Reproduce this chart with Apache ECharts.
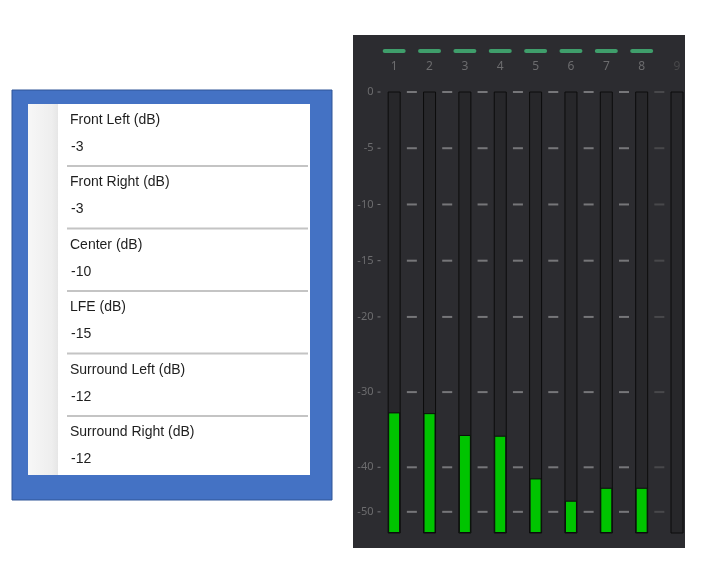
<!DOCTYPE html>
<html>
<head>
<meta charset="utf-8">
<script src="https://cdn.jsdelivr.net/npm/echarts@6/dist/echarts.min.js"></script>
<style>
html,body{margin:0;padding:0;background:#fff;}
#chart{width:701px;height:582px;}
</style>
</head>
<body>
<div id="chart"></div>
<script>
// ---- Data ----
const speakerNames = ['Front Left', 'Front Right', 'Center', 'LFE', 'Surround Left', 'Surround Right'];
const speakerGainDb = [-3, -3, -10, -15, -12, -12];
const meterChannels = ['1', '2', '3', '4', '5', '6', '7', '8', '9'];
const meterLevelsDb = [-32.7, -32.8, -35.7, -35.8, -42.5, -47.5, -44.6, -44.6, null];
const meterTicksDb = [0, -5, -10, -15, -20, -30, -40, -50];

// ---- Meter scale (piecewise-linear, like the audio meter's own scale) ----
const scaleDb  = [0, -20, -40, -50, -55];
const scaleVal = [100, 49, 14.9, 4.8, 0];
function meterPos(db) {
  if (db == null) return null;
  for (let i = 0; i < scaleDb.length - 1; i++) {
    const a = scaleDb[i], b = scaleDb[i + 1];
    if (db <= a && db >= b) {
      return scaleVal[i] + (db - a) / (b - a) * (scaleVal[i + 1] - scaleVal[i]);
    }
  }
  return 0;
}
const tickPos = meterTicksDb.map(meterPos);
function tickLabel(v) {
  for (let i = 0; i < tickPos.length; i++) {
    if (Math.abs(tickPos[i] - v) < 1e-6) return '{l|' + meterTicksDb[i] + '}{g| }{t| }';
  }
  return '';
}

// dashes between channel strips at each tick level
const dashData = [];
for (let g = 0; g < meterChannels.length - 1; g++) {
  const active = meterLevelsDb[g + 1] != null;
  tickPos.forEach(p => {
    dashData.push({ value: [g + 0.5, p], itemStyle: { color: active ? '#8a8a8c' : '#505052' } });
  });
}

// ---- Left panel (settings list) ----
const FONT = '"Liberation Sans", Arial, sans-serif';
const graphics = [
  { type: 'rect', z: -5, shape: { x: 12, y: 90, width: 320, height: 410 },
    style: { fill: '#4472C4', stroke: '#2F5597', lineWidth: 1 } },
  { type: 'rect', z: -4, shape: { x: 28, y: 104, width: 282, height: 371 }, style: { fill: '#ffffff' } },
  { type: 'rect', z: -3, shape: { x: 28, y: 104, width: 30, height: 371 },
    style: { fill: { type: 'linear', x: 0, y: 0, x2: 1, y2: 0,
      colorStops: [{ offset: 0, color: '#f7f7f7' }, { offset: 0.8, color: '#eeeeee' }, { offset: 1, color: '#e6e6e6' }] } } },
  // right dark meter panel
  { type: 'rect', z: -5, shape: { x: 353, y: 35, width: 332, height: 513 }, style: { fill: '#2c2c30' } }
];
speakerNames.forEach((name, i) => {
  const y0 = 120 + i * 62.5;
  graphics.push({ type: 'text', z: -2, x: 70, y: y0,
    style: { text: name + ' (dB)', fill: '#1e1e1e', font: '14px ' + FONT, verticalAlign: 'middle' } });
  graphics.push({ type: 'text', z: -2, x: 71, y: y0 + 27,
    style: { text: String(speakerGainDb[i]), fill: '#1e1e1e', font: '14px ' + FONT, verticalAlign: 'middle' } });
  if (i < speakerNames.length - 1) {
    graphics.push({ type: 'line', z: -2, shape: { x1: 67, y1: y0 + 46, x2: 308, y2: y0 + 46 },
      style: { stroke: '#c4c4c4', lineWidth: 2 } });
  }
});

const chart = echarts.init(document.getElementById('chart'), null, { renderer: 'canvas' });
chart.setOption({
  animation: false,
  backgroundColor: '#ffffff',
  graphic: { elements: graphics },
  grid: { left: 376.5, right: 6.3, top: 92, bottom: 49, containLabel: false },
  xAxis: [
    {
      type: 'category', data: meterChannels, position: 'top',
      axisLine: { show: false }, axisTick: { show: false }, splitLine: { show: false },
      axisLabel: {
        interval: 0,
        margin: 11,
        formatter: (v, idx) => meterLevelsDb[idx] != null ? '{dash| }\n{num|' + v + '}' : '{nodash| }\n{dim|' + v + '}',
        rich: {
          dash: { width: 23, height: 4, lineHeight: 4, backgroundColor: '#3f9e6b', borderRadius: 2, fontSize: 1 },
          nodash: { width: 23, height: 4, lineHeight: 4, fontSize: 1 },
          num: { color: '#6c6c6e', fontSize: 12, lineHeight: 28, fontFamily: 'Noto Sans' },
          dim: { color: '#48484a', fontSize: 12, lineHeight: 28, fontFamily: 'Noto Sans' }
        }
      }
    },
    { type: 'value', min: -0.5, max: 8.5, show: false }
  ],
  yAxis: {
    type: 'value', min: 0, max: 100,
    splitLine: { show: false },
    axisLine: { show: false },
    axisTick: { show: false },
    axisLabel: {
      customValues: tickPos, formatter: tickLabel, margin: -4,
      rich: {
        l: { color: '#6c6c6e', fontSize: 11, fontFamily: 'Noto Sans' },
        g: { width: 4, fontSize: 1 },
        t: { width: 3, height: 1, backgroundColor: '#77777a', fontSize: 1 }
      }
    }
  },
  series: [
    {
      type: 'bar', xAxisIndex: 0, yAxisIndex: 0, barWidth: 12,
      data: meterLevelsDb.map(meterPos),
      showBackground: true,
      backgroundStyle: { color: '#27272a', borderColor: '#0c0c0c', borderWidth: 1 },
      itemStyle: { color: '#00c400', borderColor: '#0c0c0c', borderWidth: 1 }
    },
    {
      type: 'scatter', xAxisIndex: 1, yAxisIndex: 0, symbol: 'rect', symbolSize: [10, 2],
      data: dashData, clip: false
    }
  ]
});
</script>
</body>
</html>
